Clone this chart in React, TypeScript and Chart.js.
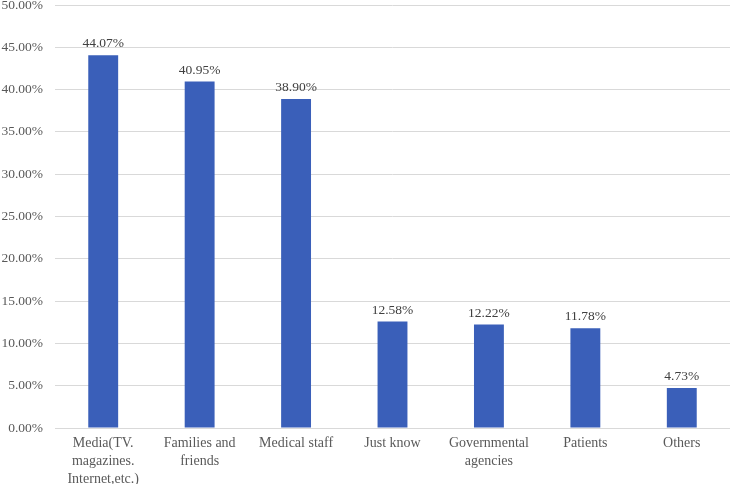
import React, { useEffect, useRef } from "react";
import { Chart, registerables } from "chart.js";

Chart.register(...registerables);

const categories: (string | string[])[] = [
  ["Media(TV.", "magazines.", "Internet,etc.)"],
  ["Families and", "friends"],
  "Medical staff",
  "Just know",
  ["Governmental", "agencies"],
  "Patients",
  "Others",
];
const values: number[] = [44.07, 40.95, 38.9, 12.58, 12.22, 11.78, 4.73];
const yMin = 0;
const yMax = 50;
const yStep = 5;

const FONT = "'Liberation Serif', 'Times New Roman', serif";

const labelPlugin = {
  id: "barLabels",
  afterDatasetsDraw(chart: any) {
    const ctx = chart.ctx;
    const meta = chart.getDatasetMeta(0);
    ctx.save();
    ctx.font = `13.5px ${FONT}`;
    ctx.fillStyle = "#404040";
    ctx.textAlign = "center";
    ctx.textBaseline = "alphabetic";
    meta.data.forEach((el: any, i: number) => {
      ctx.fillText(values[i].toFixed(2) + "%", el.x, el.y - 8);
    });
    ctx.restore();
  },
};

export default function App() {
  const ref = useRef<HTMLCanvasElement>(null);
  useEffect(() => {
    document.body.style.margin = "0";
    const chart = new Chart(ref.current!, {
      type: "bar",
      data: {
        labels: categories,
        datasets: [
          {
            data: values,
            backgroundColor: "#3a5fb9",
            categoryPercentage: 1,
            barPercentage: 0.31,
          },
        ],
      },
      options: {
        animation: false,
        responsive: false,
        devicePixelRatio: 1,
        layout: { padding: 0 },
        plugins: { legend: { display: false }, tooltip: { enabled: false } },
        scales: {
          x: {
            grid: { display: false, drawTicks: false },
            border: { display: true, color: "#d9d9d9" },
            ticks: {
              color: "#595959",
              font: { family: FONT, size: 14, lineHeight: 1.3 },
              padding: 6,
              maxRotation: 0,
              autoSkip: false,
            },
            afterFit: (s: any) => {
              s.height = 56;
            },
          },
          y: {
            min: yMin,
            max: yMax,
            grid: { color: "#d9d9d9", drawTicks: false },
            border: { display: false },
            ticks: {
              stepSize: yStep,
              color: "#595959",
              font: { family: FONT, size: 13.5 },
              padding: 12,
              callback: (v: any) => Number(v).toFixed(2) + "%",
            },
            afterFit: (s: any) => {
              s.width = 55;
              s.paddingTop = 5;
            },
          },
        },
      },
      plugins: [labelPlugin],
    });
    return () => chart.destroy();
  }, []);
  return (
    <div style={{ position: "absolute", left: 0, top: 0, width: 730, height: 484 }}>
      <canvas ref={ref} width={730} height={484} />
    </div>
  );
}
